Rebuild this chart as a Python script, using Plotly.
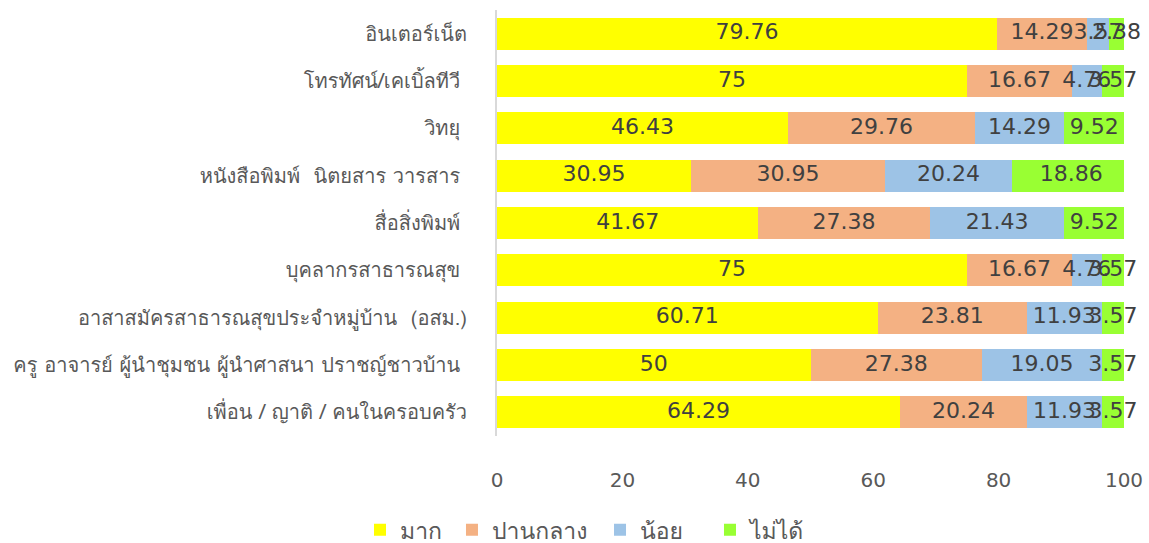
import plotly.graph_objects as go

categories = [
    "อินเตอร์เน็ต",
    "โทรทัศน์/เคเบิ้ลทีวี ",
    "วิทยุ ",
    "หนังสือพิมพ์  นิตยสาร วารสาร ",
    "สื่อสิ่งพิมพ์ ",
    "บุคลากรสาธารณสุข ",
    "อาสาสมัครสาธารณสุขประจำหมู่บ้าน  (อสม.)",
    "ครู อาจารย์ ผู้นำชุมชน ผู้นำศาสนา ปราชญ์ชาวบ้าน ",
    "เพื่อน / ญาติ / คนในครอบครัว",
]
series_names = ["มาก", "ปานกลาง", "น้อย", "ไม่ได้"]
mak = [79.76, 75, 46.43, 30.95, 41.67, 75, 60.71, 50, 64.29]
panklang = [14.29, 16.67, 29.76, 30.95, 27.38, 16.67, 23.81, 27.38, 20.24]
noi = [3.57, 4.76, 14.29, 20.24, 21.43, 4.76, 11.93, 19.05, 11.93]
maidai = [2.38, 3.57, 9.52, 18.86, 9.52, 3.57, 3.57, 3.57, 3.57]
colors = ["#FFFF00", "#F4B183", "#9DC3E6", "#99FF33"]
x_ticks = [0, 20, 40, 60, 80, 100]

FONT = "DejaVu Sans, Noto Sans Thai, Noto Sans, sans-serif"
THAI = "Tahoma, Loma, Garuda, Noto Sans Thai, Noto Sans, sans-serif"
series = [mak, panklang, noi, maidai]
legend_ids = ["legend", "legend2", "legend3", "legend4"]
legend_x = [-0.2185, -0.0718, 0.1643, 0.3397]

fig = go.Figure()
for name, vals, col, lid in zip(series_names, series, colors, legend_ids):
    fig.add_trace(go.Bar(
        y=categories, x=vals, name=name, orientation="h",
        marker=dict(color=col, line=dict(width=0)),
        textposition="none", hoverinfo="x+y", legend=lid,
    ))

# data labels at segment centres (computed from the values)
base = [0.0] * len(categories)
for vals in series:
    mids = [b + v / 2 for b, v in zip(base, vals)]
    fig.add_trace(go.Scatter(
        y=categories, x=mids, mode="text",
        text=[f"{v:g}" for v in vals],
        textfont=dict(family=FONT, size=22, color="#404040"),
        showlegend=False, cliponaxis=False, hoverinfo="skip",
    ))
    base = [b + v for b, v in zip(base, vals)]

legend_common = dict(
    orientation="h", y=-0.22, yanchor="middle", xanchor="left",
    font=dict(family=THAI, size=23, color="#595959"), itemwidth=30,
    bgcolor="rgba(0,0,0,0)",
)
layout_legends = {}
for lid, lx in zip(legend_ids, legend_x):
    layout_legends[lid] = dict(legend_common, x=lx)

fig.update_layout(
    barmode="stack",
    bargap=0.32,
    width=1149, height=543,
    margin=dict(l=497, r=25, t=10, b=107, autoexpand=False),
    plot_bgcolor="white", paper_bgcolor="white",
    font=dict(family=THAI, size=20, color="#595959"),
    showlegend=True,
    **layout_legends,
)
fig.update_xaxes(
    range=[0, 100], tickvals=x_ticks, showgrid=False, zeroline=False,
    showline=False, tickfont=dict(family=FONT, size=20, color="#595959"),
    ticks="outside", ticklen=26, tickcolor="rgba(0,0,0,0)",
)
fig.update_yaxes(
    autorange="reversed", showgrid=False, showline=True,
    linecolor="#D9D9D9", linewidth=2, ticks="", ticklabelstandoff=24,
    tickfont=dict(family=THAI, size=20, color="#595959"),
)

fig.write_html(
    "out.html",
    config={"displayModeBar": False},
    post_script="document.body.style.margin='0';document.body.style.overflow='hidden';",
)
